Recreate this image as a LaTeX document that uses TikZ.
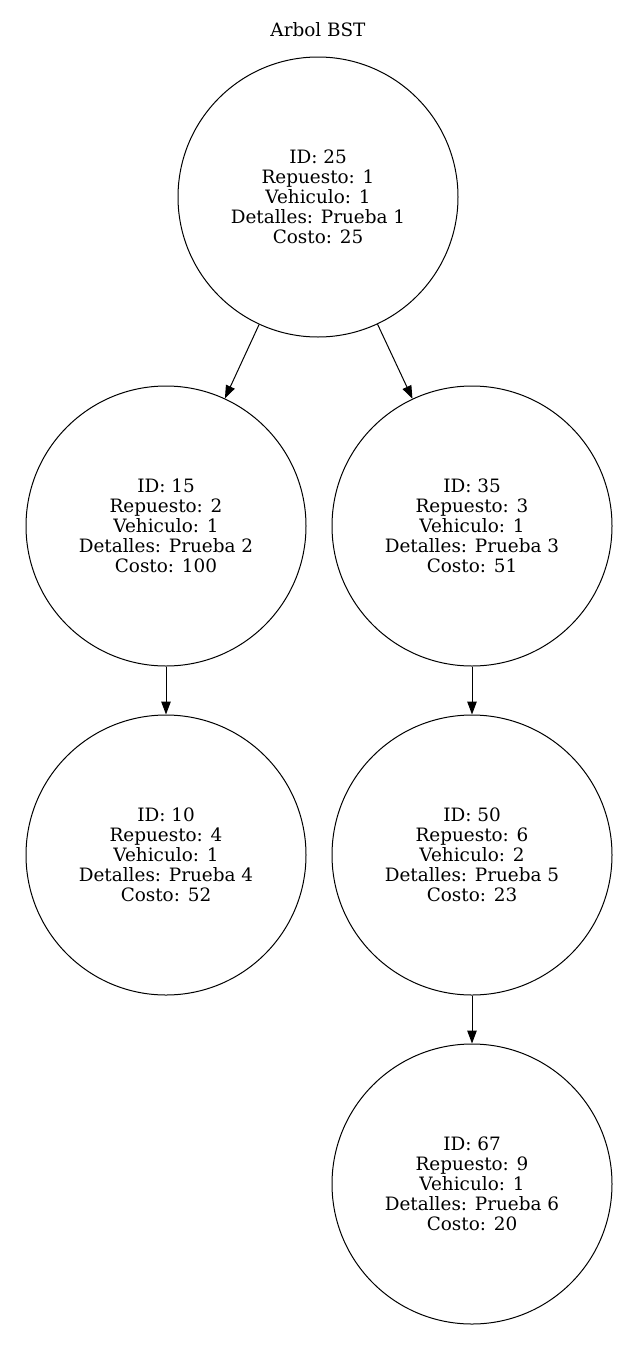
\documentclass[tikz,border=0pt]{standalone}
\usepackage{fontspec}
\setmainfont{DejaVu Serif}
\usetikzlibrary{arrows.meta}
\begin{document}
\begin{tikzpicture}[x=1pt,y=-1pt,
  bstnode/.style={draw,circle,minimum size=280pt,inner sep=0pt,line width=1pt,align=center,font=\fontsize{18.4}{20}\selectfont},
  edge/.style={-{Triangle[length=13pt,width=9.5pt]},line width=1pt,shorten >=0pt}]
\useasboundingbox (0,0) rectangle (639,1352);
\node[font=\fontsize{18.4}{20}\selectfont] (title) at (318,30) {Arbol BST};
\node[bstnode] (n25) at (318,197) {ID: 25\\Repuesto: 1\\Vehiculo: 1\\Detalles: Prueba 1\\Costo: 25};
\node[bstnode] (n15) at (166,526) {ID: 15\\Repuesto: 2\\Vehiculo: 1\\Detalles: Prueba 2\\Costo: 100};
\node[bstnode] (n35) at (472,526) {ID: 35\\Repuesto: 3\\Vehiculo: 1\\Detalles: Prueba 3\\Costo: 51};
\node[bstnode] (n10) at (166,855) {ID: 10\\Repuesto: 4\\Vehiculo: 1\\Detalles: Prueba 4\\Costo: 52};
\node[bstnode] (n50) at (472,855) {ID: 50\\Repuesto: 6\\Vehiculo: 2\\Detalles: Prueba 5\\Costo: 23};
\node[bstnode] (n67) at (472,1184) {ID: 67\\Repuesto: 9\\Vehiculo: 1\\Detalles: Prueba 6\\Costo: 20};
\draw[edge] (n25) -- (n15);
\draw[edge] (n25) -- (n35);
\draw[edge] (n15) -- (n10);
\draw[edge] (n35) -- (n50);
\draw[edge] (n50) -- (n67);
\end{tikzpicture}
\end{document}
